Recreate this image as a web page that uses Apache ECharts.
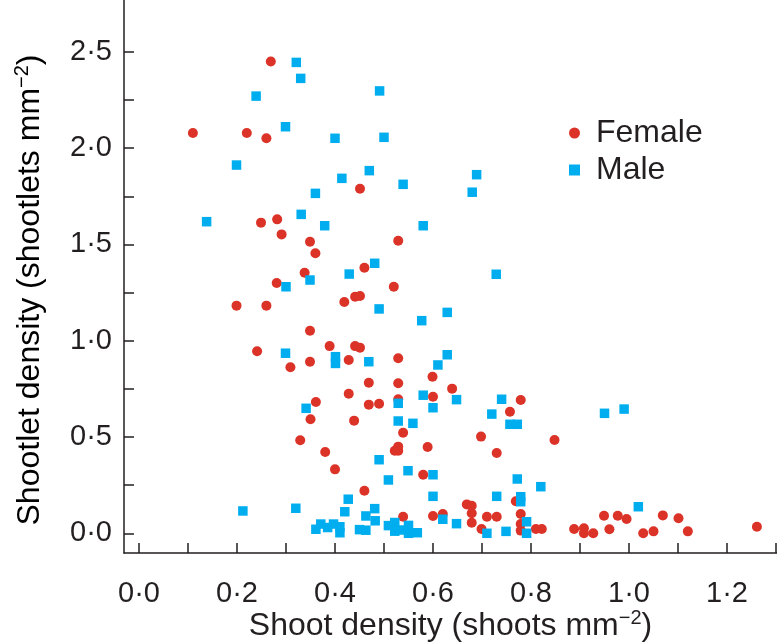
<!DOCTYPE html>
<html><head><meta charset="utf-8">
<script src="https://cdn.jsdelivr.net/npm/echarts@6/dist/echarts.min.js"></script>
<style>html,body{margin:0;padding:0;background:#fff}#c{width:777px;height:644px}</style>
</head><body><div id="c"></div>
<script>
const femaleX = [0.269,0.110,0.220,0.260,0.451,0.249,0.282,0.291,0.349,0.360,0.338,0.281,0.199,0.260,0.419,0.349,0.241,0.389,0.349,0.309,0.428,0.529,0.460,0.520,0.441,0.451,0.441,0.451,0.529,0.599,0.469,0.529,0.428,0.639,0.600,0.469,0.490,0.529,0.779,0.757,0.439,0.539,0.698,0.848,0.529,0.522,0.529,0.589,0.730,0.400,0.580,0.460,0.769,0.669,0.679,0.679,0.679,0.539,0.600,0.620,0.710,0.730,0.779,0.699,0.779,0.779,0.810,0.822,0.888,0.361,0.350,0.329,0.380,0.908,0.908,0.927,0.949,0.960,0.977,0.995,1.029,1.050,1.069,1.101,1.120,1.261];
const femaleY = [2.450,2.078,2.078,2.051,1.789,1.613,1.630,1.552,1.514,1.454,1.353,1.300,1.182,1.182,1.201,1.052,0.945,0.972,0.891,0.862,0.900,1.519,1.379,1.280,1.228,1.232,0.972,0.964,0.909,0.813,0.782,0.779,0.725,0.751,0.709,0.668,0.673,0.696,0.692,0.631,0.585,0.522,0.502,0.484,0.450,0.429,0.429,0.448,0.417,0.332,0.304,0.221,0.166,0.150,0.143,0.104,0.055,0.086,0.090,0.100,0.086,0.086,0.100,0.022,0.048,0.014,0.022,0.022,0.022,0.682,0.592,0.483,0.422,0.026,0.000,0.000,0.091,0.021,0.091,0.074,0.000,0.010,0.093,0.078,0.010,0.034];
const maleX = [0.321,0.330,0.239,0.299,0.400,0.199,0.414,0.360,0.491,0.500,0.470,0.539,0.689,0.680,0.138,0.331,0.379,0.429,0.349,0.300,0.299,0.401,0.401,0.580,0.481,0.729,0.490,0.629,0.577,0.469,0.629,0.610,0.580,0.648,0.529,0.600,0.740,0.720,0.757,0.772,0.529,0.559,0.490,0.549,0.509,0.600,0.772,0.820,0.600,0.730,0.779,0.779,0.427,0.420,0.481,0.463,0.482,0.620,0.648,0.710,0.749,0.791,0.791,0.397,0.410,0.410,0.450,0.463,0.509,0.522,0.522,0.536,0.550,0.550,0.568,0.341,0.212,0.320,0.361,0.371,0.385,0.950,0.990,1.019];
const maleY = [2.445,2.362,2.270,2.111,2.051,1.912,1.843,1.765,2.297,2.056,1.883,1.812,1.862,1.771,1.618,1.656,1.597,1.346,1.315,1.280,0.935,0.917,0.882,1.597,1.402,1.345,1.165,1.147,1.104,0.891,0.927,0.874,0.717,0.694,0.675,0.652,0.696,0.619,0.566,0.566,0.583,0.571,0.382,0.325,0.277,0.304,0.282,0.242,0.192,0.192,0.190,0.164,0.177,0.112,0.128,0.090,0.065,0.073,0.050,0.000,0.010,0.060,0.000,0.048,0.034,0.003,0.019,0.016,0.040,0.056,0.011,0.017,0.041,0.000,0.003,0.649,0.116,0.130,0.021,0.048,0.030,0.623,0.645,0.138];
const xTicks = [0,0.1,0.2,0.3,0.4,0.5,0.6,0.7,0.8,0.9,1.0,1.1,1.2,1.3];
const xLabels = [0,0.2,0.4,0.6,0.8,1.0,1.2];
const yTicks = [0,0.25,0.5,0.75,1.0,1.25,1.5,1.75,2.0,2.25,2.5];
const yLabels = [0,0.5,1.0,1.5,2.0,2.5];

const zip = (xs, ys) => xs.map((x, i) => [x, ys[i]]);
const fmt = v => v.toFixed(1).replace('.', '\u00b7');
const FONT = '"Liberation Sans", Arial, sans-serif';
const AX = '#231f20';
const TXT = '#231f20';
const titleRich = {
  a: {fontSize: 32, color: TXT, fontFamily: FONT, lineHeight: 36},
  s: {fontSize: 20, color: TXT, fontFamily: FONT, verticalAlign: 'top', lineHeight: 36}
};

const chart = echarts.init(document.getElementById('c'), null, {renderer: 'canvas'});
chart.setOption({
  animation: false,
  backgroundColor: '#fff',
  textStyle: {fontFamily: FONT},
  grid: {left: 124, top: 0, right: 0, bottom: 91, containLabel: false, outerBoundsMode: 'none'},
  legend: {
    orient: 'vertical', left: 564, top: 112, itemWidth: 11, itemHeight: 11, itemGap: 5,
    textStyle: {fontSize: 32, color: TXT, fontFamily: FONT, padding: [0, 0, 0, 11]},
    data: [{name: 'Female', icon: 'circle'}, {name: 'Male', icon: 'rect'}]
  },
  graphic: [{
    type: 'text', x: 30, y: 290, rotation: Math.PI / 2,
    style: {
      text: '{a|Shootlet density (shootlets mm}{s|\u22122}{a|)}',
      rich: titleRich, align: 'center', verticalAlign: 'middle'
    }
  }],
  xAxis: {
    type: 'value', min: -0.0306, max: 1.302,
    name: '{a|Shoot density (shoots mm}{s|\u22122}{a|)}',
    nameLocation: 'middle', nameGap: 55, nameMoveOverlap: false,
    nameTextStyle: {rich: titleRich},
    axisLine: {show: true, onZero: false, lineStyle: {color: AX, width: 1.5}},
    axisTick: {show: true, inside: true, length: 10, lineStyle: {color: AX, width: 1.5}, customValues: xTicks},
    axisLabel: {customValues: xLabels, formatter: fmt, fontSize: 29, color: TXT, margin: 26, fontFamily: FONT},
    splitLine: {show: false}
  },
  yAxis: {
    type: 'value', min: -0.1023, max: 2.769,
    axisLine: {show: true, onZero: false, lineStyle: {color: AX, width: 1.5}},
    axisTick: {show: true, inside: true, length: 10, lineStyle: {color: AX, width: 1.5}, customValues: yTicks},
    axisLabel: {customValues: yLabels, formatter: fmt, fontSize: 29, color: TXT, margin: 12, fontFamily: FONT},
    splitLine: {show: false}
  },
  series: [
    {name: 'Female', type: 'scatter', symbol: 'circle', symbolSize: 10, itemStyle: {color: '#dc3328', opacity: 1}, data: zip(femaleX, femaleY), z: 2},
    {name: 'Male', type: 'scatter', symbol: 'rect', symbolSize: 9.5, itemStyle: {color: '#00aeef', opacity: 1}, data: zip(maleX, maleY), z: 3}
  ]
});
</script>
</body></html>
